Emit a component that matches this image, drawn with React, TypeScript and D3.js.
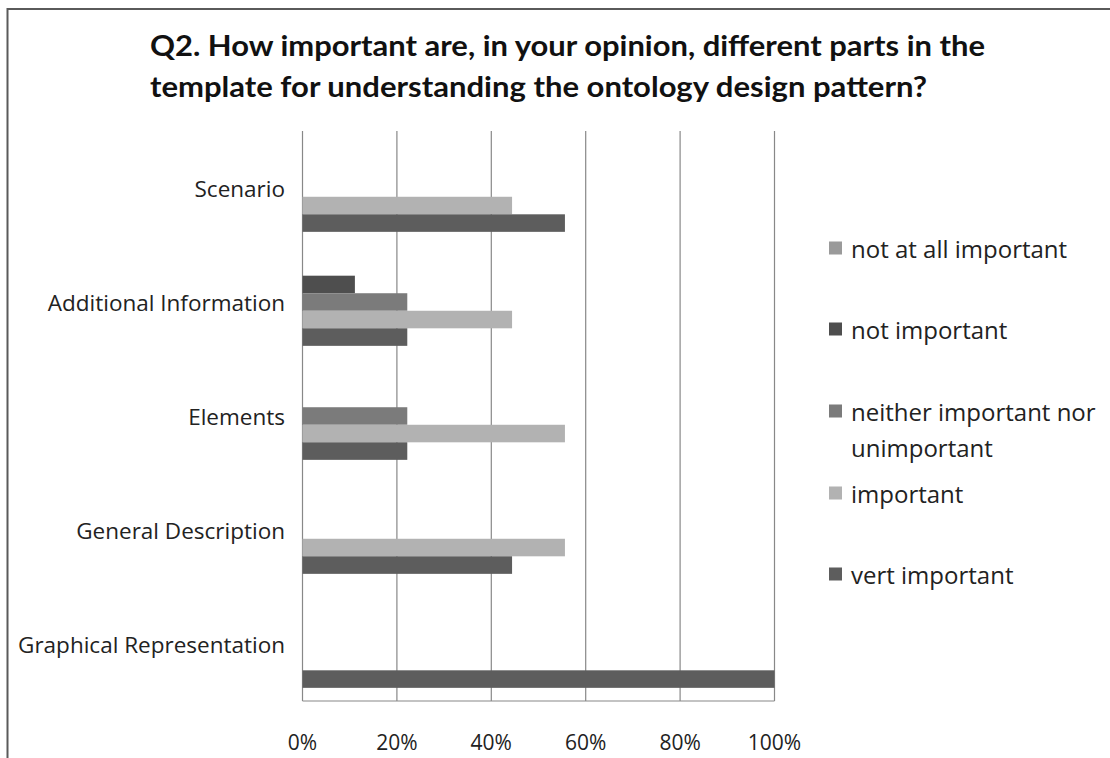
import React from "react";
import * as d3 from "d3";

// Survey answers, percent of respondents per template part
const categories = [
  "Scenario",
  "Additional Information",
  "Elements",
  "General Description",
  "Graphical Representation",
];
const seriesNames = [
  "not at all important",
  "not important",
  "neither important nor unimportant",
  "important",
  "vert important",
];
const notAtAllImportant = [0, 0, 0, 0, 0];
const notImportant = [0, 11.1, 0, 0, 0];
const neitherImportant = [0, 22.2, 22.2, 0, 0];
const important = [44.4, 44.4, 55.6, 55.6, 0];
const vertImportant = [55.6, 22.2, 22.2, 44.4, 100];
const seriesValues = [notAtAllImportant, notImportant, neitherImportant, important, vertImportant];
const seriesColors = ["#9a9a9a", "#4e4e4e", "#7b7b7b", "#b2b2b2", "#5d5d5d"];
const xTicks = [0, 20, 40, 60, 80, 100];
const titleLines = [
  "Q2. How important are, in your opinion, different parts in the",
  "template for understanding the ontology design pattern?",
];

const FONT = "'Open Sans', Lato, sans-serif";
const TITLE_FONT = "Lato, 'Open Sans', sans-serif";

export default function App() {
  const W = 1110;
  const H = 758;
  const plot = { left: 302.5, right: 774.5, top: 131, bottom: 701 };

  const x = d3.scaleLinear().domain([0, 100]).range([plot.left, plot.right]);
  const y = d3.scaleBand<string>().domain(categories).range([plot.top, plot.bottom]).paddingInner(0);
  const ySeries = d3
    .scaleBand<number>()
    .domain(d3.range(seriesNames.length))
    .range([0, y.bandwidth()])
    .paddingInner(0)
    .paddingOuter(0.75);

  const legendY = [248, 329, 411, 493, 574];

  return (
    <svg
      width={W}
      height={H}
      style={{ position: "absolute", left: 0, top: 0, background: "#fff" }}
      fontFamily={FONT}
    >
      <rect x={7.5} y={9} width={W + 50} height={H + 50} fill="#fff" stroke="#5a5a5a" strokeWidth={2} />

      {titleLines.map((t, i) => (
        <text
          key={i}
          x={150}
          y={45 + i * 41}
          dominantBaseline="central"
          fontFamily={TITLE_FONT}
          fontSize={28}
          fontWeight={700}
          fill="#111"
          textLength={i === 0 ? 835 : 777}
          lengthAdjust="spacingAndGlyphs"
        >
          {t}
        </text>
      ))}

      {/* vertical gridlines */}
      {xTicks.map((t) => (
        <line key={t} x1={x(t)} x2={x(t)} y1={plot.top} y2={plot.bottom} stroke="#888" strokeWidth={1.2} />
      ))}
      <line x1={plot.left} x2={plot.right} y1={plot.bottom} y2={plot.bottom} stroke="#888" strokeWidth={1.2} />

      {/* bars */}
      {categories.map((c, ci) =>
        seriesValues.map((vals, si) =>
          vals[ci] > 0 ? (
            <rect
              key={`${ci}-${si}`}
              x={x(0)}
              y={(y(c) as number) + (ySeries(si) as number)}
              width={x(vals[ci]) - x(0)}
              height={ySeries.bandwidth()}
              fill={seriesColors[si]}
            />
          ) : null
        )
      )}

      {/* category labels */}
      {categories.map((c) => (
        <text
          key={c}
          x={285}
          y={(y(c) as number) + y.bandwidth() / 2}
          textAnchor="end"
          dominantBaseline="central"
          fontSize={22.5}
          fill="#222"
        >
          {c}
        </text>
      ))}

      {/* x tick labels */}
      {xTicks.map((t) => (
        <text key={t} x={x(t)} y={742} textAnchor="middle" dominantBaseline="central" fontSize={21} fill="#222">
          {`${t}%`}
        </text>
      ))}

      {/* legend */}
      {seriesNames.map((n, i) => {
        const lines = i === 2 ? ["neither important nor", "unimportant"] : [n];
        return (
          <g key={n}>
            <rect x={829} y={legendY[i] - 6.5} width={13} height={13} fill={seriesColors[i]} />
            {lines.map((l, li) => (
              <text
                key={li}
                x={851}
                y={legendY[i] + li * 36}
                dominantBaseline="central"
                fontSize={24}
                fill="#222"
              >
                {l}
              </text>
            ))}
          </g>
        );
      })}
    </svg>
  );
}
